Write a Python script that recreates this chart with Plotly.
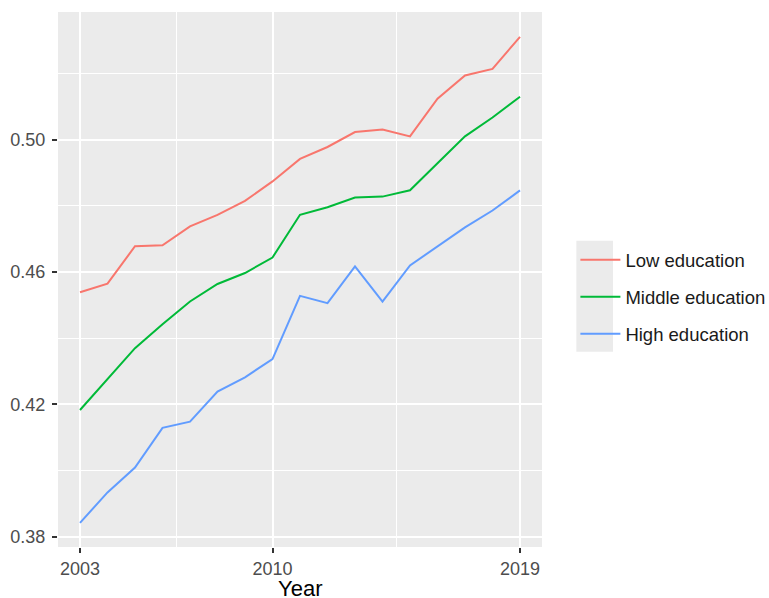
import plotly.graph_objects as go

years = list(range(2003, 2020))
low_edu = [0.4539, 0.4565, 0.4678, 0.4681, 0.4738, 0.4773, 0.4815, 0.4874, 0.4942,
           0.4978, 0.5023, 0.5031, 0.5010, 0.5124, 0.5194, 0.5214, 0.5311]
mid_edu = [0.4183, 0.4277, 0.4370, 0.4442, 0.4511, 0.4564, 0.4597, 0.4644, 0.4773,
           0.4796, 0.4825, 0.4828, 0.4847, 0.4929, 0.5010, 0.5067, 0.5130]
high_edu = [0.3842, 0.3934, 0.4009, 0.4129, 0.4148, 0.4239, 0.4282, 0.4337, 0.4528,
            0.4506, 0.4617, 0.4511, 0.4620, 0.4677, 0.4735, 0.4786, 0.4847]
series_names = ["Low education", "Middle education", "High education"]
series_colors = ["#F8766D", "#00BA38", "#619CFF"]
x_ticks = [2003, 2010, 2019]
y_ticks = [0.38, 0.42, 0.46, 0.50]
x_title = "Year"

FONT = "Liberation Sans, Arial, Helvetica, sans-serif"

fig = go.Figure()
for name, vals, col in zip(series_names, [low_edu, mid_edu, high_edu], series_colors):
    fig.add_trace(go.Scatter(x=years, y=vals, mode="lines", name=name, legendgroup=name,
                             line=dict(color=col, width=2)))

fig.add_shape(type="rect", xref="paper", yref="paper", x0=1.071, x1=1.1467, y0=0.3649, y1=0.5726,
              fillcolor="#EBEBEB", line=dict(width=0), layer="below")

fig.add_annotation(text=x_title, xref="paper", yref="paper", x=0.5, y=-0.051,
                   xanchor="center", yanchor="top", showarrow=False,
                   font=dict(family=FONT, size=22, color="black"))

fig.update_layout(
    width=769, height=598,
    margin=dict(l=58, r=227, t=12, b=51, autoexpand=False),
    paper_bgcolor="white", plot_bgcolor="#EBEBEB",
    font=dict(family=FONT, size=18, color="#4D4D4D"),
    legend=dict(x=1.069, xanchor="left", y=0.467, yanchor="middle",
                font=dict(family=FONT, size=18.5, color="#1A1A1A"),
                bgcolor="rgba(0,0,0,0)", tracegroupgap=10, itemwidth=40),
    showlegend=True,
)
fig.update_xaxes(
    range=[2002.2, 2019.8], tickvals=x_ticks, ticktext=[str(t) for t in x_ticks],
    showgrid=True, gridcolor="white", gridwidth=2,
    minor=dict(tickvals=[2006.5, 2014.5], showgrid=True, gridcolor="white", gridwidth=1),
    ticks="outside", ticklen=5, tickwidth=1.5, tickcolor="#333333",
    tickfont=dict(size=18, color="#4D4D4D"),
    zeroline=False, showline=False, automargin=False,
)
fig.update_yaxes(
    range=[0.3769, 0.5386], tickvals=y_ticks, ticktext=[f"{t:.2f}" for t in y_ticks],
    showgrid=True, gridcolor="white", gridwidth=2,
    minor=dict(tickvals=[0.40, 0.44, 0.48, 0.52], showgrid=True, gridcolor="white", gridwidth=1),
    ticks="outside", ticklen=5, tickwidth=1.5, tickcolor="#333333",
    tickfont=dict(size=18, color="#4D4D4D"), ticklabelstandoff=3,
    zeroline=False, showline=False, automargin=False,
)

fig.write_html("out.html", config={"displayModeBar": False},
               post_script="document.body.style.margin='0px';")
